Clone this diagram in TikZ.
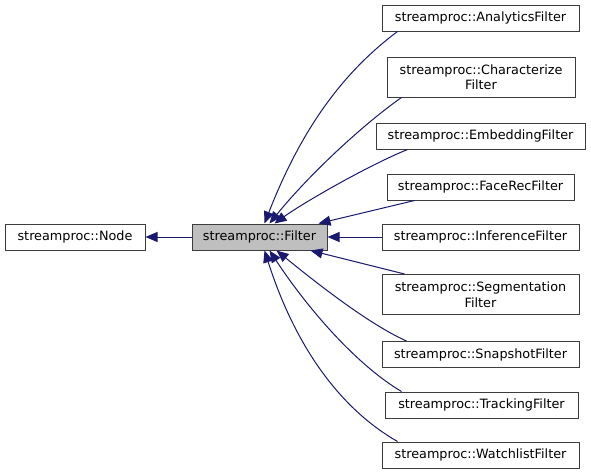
\documentclass[tikz,border=0pt]{standalone}
\usepackage{fontspec}
\setmainfont{DejaVu Sans}
\usetikzlibrary{arrows.meta}

\definecolor{edgeblue}{HTML}{191970}
\definecolor{boxline}{HTML}{3C3C3C}

\tikzset{
  cls/.style={draw=boxline, line width=1pt, fill=white, inner sep=0pt,
    minimum height=26pt, align=center,
    font=\fontsize{12.8}{15.5}\selectfont},
  inh/.style={draw=edgeblue, line width=1pt,
    -{Triangle[length=12pt,width=10pt]}},
}

\begin{document}
\begin{tikzpicture}[x=1pt,y=-1pt]
\useasboundingbox (0,0) rectangle (591,475);

    % Base classes
    \node[cls, minimum width=140pt] (nd) at (75,237) {streamproc::Node};
    \node[cls, fill=gray!50, minimum width=135pt] (flt) at (259.5,237) {streamproc::Filter};

    % Derived filters
    \node[cls, minimum width=197pt] (ana) at (480.5,18) {streamproc::AnalyticsFilter};
    \node[cls, minimum width=188pt, minimum height=40pt] (chr) at (481,77) {streamproc::Characterize\\Filter};
    \node[cls, minimum width=209pt] (emb) at (480.5,136) {streamproc::EmbeddingFilter};
    \node[cls, minimum width=187pt] (fac) at (480.5,187) {streamproc::FaceRecFilter};
    \node[cls, minimum width=197pt] (inf) at (480.5,237) {streamproc::InferenceFilter};
    \node[cls, minimum width=197pt, minimum height=40pt] (seg) at (480.5,294.5) {streamproc::Segmentation\\Filter};
    \node[cls, minimum width=197pt] (snp) at (480.5,354.5) {streamproc::SnapshotFilter};
    \node[cls, minimum width=193pt] (trk) at (481.5,405) {streamproc::TrackingFilter};
    \node[cls, minimum width=197pt] (wat) at (480.5,455) {streamproc::WatchlistFilter};

    % Filter inherits Node
    \draw[inh] (flt) -- (nd);

    % Inheritance edges, top half
    \draw[inh] ([xshift=16pt]ana.south west) .. controls (342,73) and (301,130) .. ([xshift=73pt]flt.north west);
    \draw[inh] ([xshift=15pt]chr.south west) .. controls (361,126) and (308,176) .. ([xshift=78pt]flt.north west);
    \draw[inh] ([xshift=32pt]emb.south west) .. controls (367,166) and (303,203) .. ([xshift=83pt]flt.north west);
    \draw[inh] ([xshift=28pt]fac.south west) -- ([xshift=-9pt]flt.north east);
    \draw[inh] (inf) -- (flt);

    % Inheritance edges, bottom half
    \draw[inh] ([xshift=23pt]seg.north west) -- ([xshift=-17pt]flt.south east);
    \draw[inh] ([xshift=25pt]snp.north west) .. controls (366,323) and (308,276) .. ([xshift=85pt]flt.south west);
    \draw[inh] ([xshift=17pt]trk.north west) .. controls (355,364) and (306,306) .. ([xshift=78pt]flt.south west);
    \draw[inh] ([xshift=16pt]wat.north west) .. controls (346,412) and (298,355) .. ([xshift=73pt]flt.south west);

\end{tikzpicture}
\end{document}
